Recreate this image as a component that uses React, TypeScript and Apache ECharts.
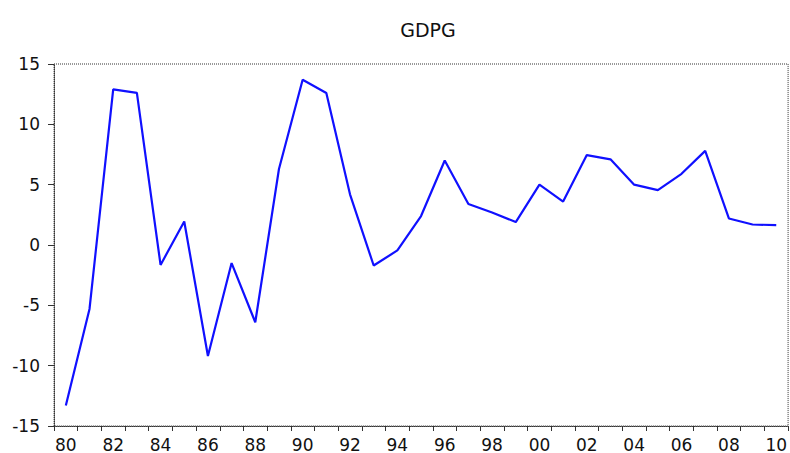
import React, { useEffect, useRef } from "react";
import * as echarts from "echarts";

const years: string[] = [
  "1980", "1981", "1982", "1983", "1984", "1985", "1986", "1987", "1988", "1989",
  "1990", "1991", "1992", "1993", "1994", "1995", "1996", "1997", "1998", "1999",
  "2000", "2001", "2002", "2003", "2004", "2005", "2006", "2007", "2008", "2009", "2010",
];

const gdpg: number[] = [
  -13.3, -5.3, 12.9, 12.6, -1.65, 1.95, -9.2, -1.5, -6.4, 6.3,
  13.7, 12.6, 4.2, -1.7, -0.45, 2.4, 7.0, 3.4, 2.7, 1.9,
  5.0, 3.6, 7.45, 7.1, 5.0, 4.55, 5.9, 7.8, 2.2, 1.7, 1.65,
];

const yMin = -15;
const yMax = 15;
const yStep = 5;

export default function App() {
  const ref = useRef<HTMLDivElement>(null);

  useEffect(() => {
    if (!ref.current) return;
    const chart = echarts.init(ref.current, undefined, { renderer: "svg" });
    const lineStyle = { color: "#333", width: 1, type: "dotted" as const };
    chart.setOption({
      animation: false,
      backgroundColor: "#ffffff",
      title: {
        text: "GDPG",
        left: 423,
        textAlign: "center",
        top: 15,
        textStyle: { fontFamily: "DejaVu Sans", fontSize: 19, fontWeight: "normal", color: "#111" },
      },
      grid: {
        left: 54,
        right: -2,
        top: 64,
        bottom: 24,
        show: true,
        borderColor: "#333",
        borderWidth: 1,
        borderType: "dotted",
        backgroundColor: "transparent",
      },
      xAxis: {
        type: "category",
        data: years,
        boundaryGap: true,
        axisLine: { show: true, onZero: false, lineStyle },
        axisTick: { show: true, interval: 0, length: 5, inside: false, lineStyle: { color: "#333" } },
        axisLabel: {
          interval: 1,
          margin: 10,
          formatter: (v: string) => v.slice(2),
          fontFamily: "DejaVu Sans",
          fontSize: 17,
          color: "#111",
        },
        splitLine: { show: false },
      },
      yAxis: {
        type: "value",
        min: yMin,
        max: yMax,
        interval: yStep,
        axisLine: { show: true, onZero: false, lineStyle },
        axisTick: { show: true, length: 6, lineStyle: { color: "#333" } },
        axisLabel: {
          margin: 14,
          fontFamily: "DejaVu Sans",
          fontSize: 17,
          color: "#111",
        },
        splitLine: { show: false },
      },
      series: [
        {
          type: "line",
          name: "GDPG",
          data: gdpg,
          showSymbol: false,
          symbol: "none",
          lineStyle: { color: "#1010ff", width: 2.2 },
        },
      ],
    });
    return () => chart.dispose();
  }, []);

  return (
    <div
      ref={ref}
      style={{ position: "fixed", left: 0, top: 0, width: 790, height: 453, background: "#fff" }}
    />
  );
}
